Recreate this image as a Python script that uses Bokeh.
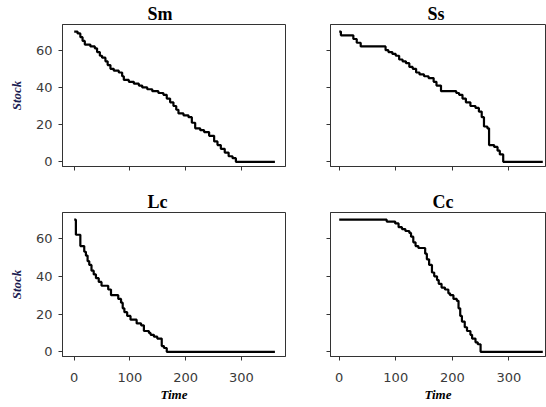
from bokeh.plotting import figure
from bokeh.layouts import gridplot
from bokeh.models import Range1d, FixedTicker
from bokeh.embed import file_html
from bokeh.resources import INLINE

# ---- data ----
titles = ["Sm", "Ss", "Lc", "Cc"]
x_ticks = [0, 100, 200, 300]
y_ticks = [0, 20, 40, 60]

sm_t = [0, 6, 11, 15, 19, 29, 37, 41, 46, 50, 56, 60, 65, 71, 80, 86, 89, 98, 107, 116,
        122, 131, 140, 151, 160, 166, 172, 178, 183, 187, 196, 205, 211, 217, 226, 233,
        242, 251, 257, 263, 270, 277, 284, 290, 360]
sm_v = [70, 69, 67, 65, 63, 62, 61, 59, 57, 56, 54, 52, 50, 49, 48, 46, 44, 43, 42, 41,
        40, 39, 38, 37, 36, 34, 32, 30, 28, 26, 25, 24, 21, 18, 17, 16,
        14, 11, 9, 7, 5, 3, 2, 0, 0]

ss_t = [0, 3, 25, 31, 38, 82, 87, 94, 100, 106, 112, 118, 124, 130, 136, 142, 150, 158,
        167, 172, 180, 207, 212, 218, 224, 232, 241, 247, 252, 256, 262, 265, 274, 280,
        284, 290, 360]
ss_v = [70, 68, 66, 64, 62, 60, 59, 58, 57, 55, 54, 53, 51, 50, 48, 47, 46, 45,
        43, 41, 38, 37, 36, 34, 32, 30, 29, 27, 24, 19, 18, 9, 8, 6,
        4, 0, 0]

lc_t = [0, 3, 11, 18, 21, 24, 27, 31, 35, 39, 44, 49, 61, 66, 79, 84, 87, 90, 95, 101,
        112, 120, 125, 134, 137, 143, 149, 157, 161, 166, 360]
lc_v = [70, 62, 56, 53, 51, 48, 46, 43, 41, 39, 37, 35, 33, 30, 28, 26, 23, 21, 19, 17,
        15, 14, 11, 10, 9, 8, 7, 3, 2, 0, 0]

cc_t = [0, 84, 99, 105, 111, 117, 124, 127, 131, 135, 140, 152, 155, 159, 164, 168, 173,
        176, 181, 187, 193, 196, 202, 208, 211, 214, 217, 222, 226, 232, 235, 241, 245,
        250, 360]
cc_v = [70, 69, 68, 66, 65, 64, 63, 61, 58, 56, 55, 52, 49, 46, 42, 40, 38,
        36, 34, 33, 31, 30, 28, 27, 23, 19, 16, 13, 11, 9, 7, 5, 4,
        0, 0]

series = [(sm_t, sm_v), (ss_t, ss_v), (lc_t, lc_v), (cc_t, cc_v)]
title_offset = [85, 97, 85, 102]

SPINE = "#333333"
TICKTXT = "#3a3a3a"


def make_panel(i, top, left):
    t, v = series[i]
    if left:
        width, bl, br = 295, 62, 10
        xr = Range1d(-21, 379)
    else:
        width, bl, br = 251, 35, 1
        xr = Range1d(-15.4, 364.8)
    if top:
        height, bt, bb = 178, 22, 12
    else:
        height, bt, bb = 228, 34, 50
    p = figure(width=width, height=height, output_backend="svg", toolbar_location=None,
               x_range=xr, y_range=Range1d(-2.5, 73.8),
               min_border_left=bl, min_border_right=br,
               min_border_top=bt, min_border_bottom=bb)
    p.step(t, v, mode="after", line_color="black", line_width=2.2)
    p.xgrid.visible = False
    p.ygrid.visible = False
    p.outline_line_color = SPINE
    p.outline_line_width = 1
    p.outline_line_alpha = 1
    p.background_fill_color = "white"
    p.border_fill_color = "white"

    p.title.text = titles[i]
    p.title.align = "left"
    p.title.offset = title_offset[i]
    p.title.text_font = "Liberation Serif"
    p.title.text_font_style = "bold"
    p.title.text_font_size = "18px"
    p.title.text_color = "black"
    if "standoff" in p.title.properties():
        p.title.standoff = 2

    xa = p.below[0]
    ya = p.left[0]
    for ax in (xa, ya):
        ax.axis_line_color = SPINE
        ax.major_tick_line_color = SPINE
        ax.major_tick_in = 0
        ax.major_tick_out = 4
        ax.minor_tick_line_color = None
        ax.major_label_text_font = "DejaVu Sans"
        ax.major_label_text_font_size = "13px"
        ax.major_label_text_color = TICKTXT
        ax.axis_label_text_font = "Liberation Serif"
        ax.axis_label_text_font_style = "bold italic"
        ax.axis_label_text_font_size = "13px"

    xa.ticker = FixedTicker(ticks=x_ticks)
    ya.ticker = FixedTicker(ticks=y_ticks)
    xa.major_label_standoff = 12
    ya.major_label_standoff = 6

    if top:
        xa.major_label_overrides = {k: "" for k in x_ticks}
    else:
        xa.axis_label = "Time"
        xa.axis_label_text_color = "black"
        xa.axis_label_standoff = 2
    if left:
        ya.axis_label = "Stock"
        ya.axis_label_text_color = "#1c1c50"
        ya.axis_label_standoff = 9
    else:
        ya.major_label_overrides = {k: "" for k in y_ticks}
    return p


p1 = make_panel(0, True, True)
p2 = make_panel(1, True, False)
p3 = make_panel(2, False, True)
p4 = make_panel(3, False, False)

grid = gridplot([[p1, p2], [p3, p4]], toolbar_location=None)

open("out.html", "w").write(file_html(grid, INLINE))
